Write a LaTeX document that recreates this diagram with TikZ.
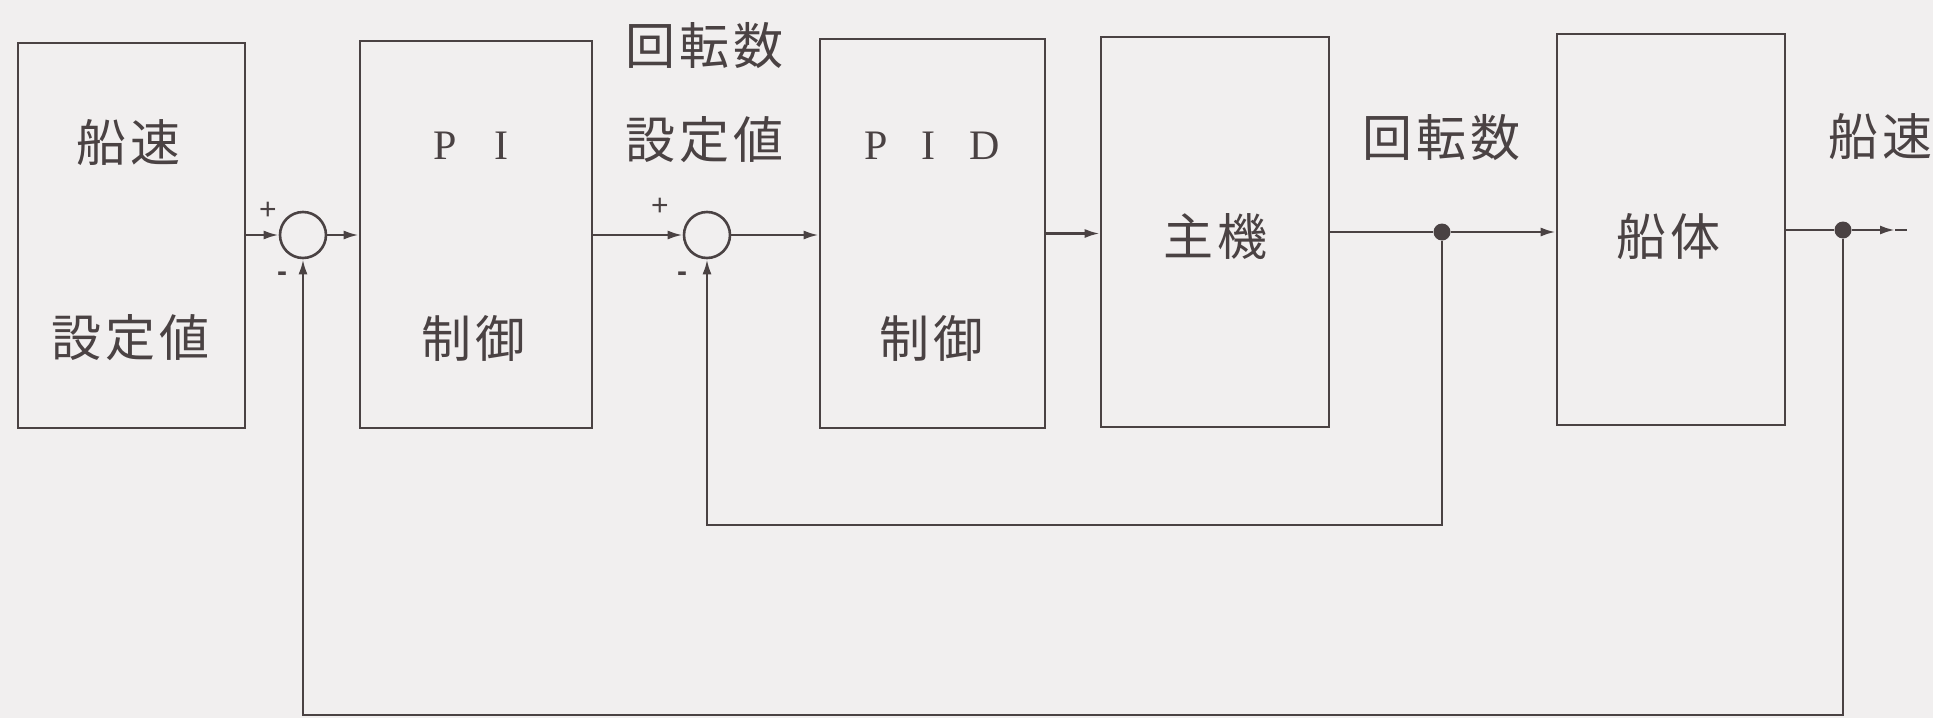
\documentclass[tikz,border=0pt]{standalone}
\usepackage{fontspec}
\newfontfamily\cjk{Noto Sans CJK JP}
\newfontfamily\lser{Liberation Serif}
\newfontfamily\lsan{Liberation Sans}
\usetikzlibrary{arrows.meta}
\definecolor{bg}{HTML}{F1EFEF}
\definecolor{ink}{HTML}{4A4243}
\tikzset{
  blk/.style={draw=ink, line width=2.6pt, inner sep=0pt},
  sumj/.style={circle, draw=ink, line width=2.6pt, minimum size=46pt, inner sep=0pt},
  dotn/.style={circle, fill=ink, minimum size=17pt, inner sep=0pt},
  conn/.style={draw=ink, line width=2.5pt},
  arr/.style={conn, -{Latex[length=15pt,width=9pt]}},
  lbl/.style={text=ink, font=\cjk\fontsize{50pt}{60pt}\selectfont, inner sep=0pt},
  lat/.style={text=ink, font=\lser\fontsize{42pt}{48pt}\selectfont, inner sep=0pt},
  sgn/.style={text=ink, font=\lsan\fontsize{30pt}{34pt}\selectfont, inner sep=0pt},
}
\newcommand\gp{\hspace{4pt}}
\begin{document}
\begin{tikzpicture}[x=1pt,y=-1pt]
\useasboundingbox (0,0) rectangle (1933,718);
\fill[bg] (0,0) rectangle (1933,718);
% blocks
\node[blk, minimum width=227pt, minimum height=385pt] (b1) at (131.5,235.5) {};
\node[blk, minimum width=232pt, minimum height=387pt] (b2) at (476,234.5) {};
\node[blk, minimum width=225pt, minimum height=389pt] (b3) at (932.5,233.5) {};
\node[blk, minimum width=228pt, minimum height=390pt] (b4) at (1215,232) {};
\node[blk, minimum width=228pt, minimum height=391pt] (b5) at (1671,229.5) {};
% junctions
\node[sumj] (s1) at (303,235) {};
\node[sumj] (s2) at (707,235) {};
\node[dotn] (d1) at (1442,232) {};
\node[dotn] (d2) at (1843,230) {};
\coordinate (oA) at (1895,230);
\coordinate (oB) at (1907,230);
\coordinate (fb1) at (1442,525);
\coordinate (fb2) at (1843,715);
% texts
\node[lbl] (t1) at (128,143) {船\gp 速};
\node[lbl] (t2) at (130,338) {設\gp 定\gp 値};
\node[lat] (t3) at (471,146) {P\hspace{38pt}I};
\node[lbl] (t4) at (473,338) {制\gp 御};
\node[lbl] (t5) at (704,46) {回\gp 転\gp 数};
\node[lbl] (t6) at (704,140) {設\gp 定\gp 値};
\node[lat] (t7) at (932,146) {P\hspace{34pt}I\hspace{34pt}D};
\node[lbl] (t8) at (931,338) {制\gp 御};
\node[lbl] (t9) at (1215,237) {主\gp 機};
\node[lbl] (t10) at (1441,138) {回\gp 転\gp 数};
\node[lbl] (t11) at (1668,237) {船\gp 体};
\node[lbl] (t12) at (1880,137) {船\gp 速};
\node[sgn] (p1) at (268,211) {+};
\node[sgn] (m1) at (282,277) {\bfseries -};
\node[sgn] (p2) at (660,207) {+};
\node[sgn] (m2) at (682,277) {\bfseries -};
% connectors
\draw[arr] (b1.east |- s1.west) -- (s1.west);
\draw[arr] (s1.east) -- (s1.east -| b2.west);
\draw[arr] (b2.east |- s2.west) -- (s2.west);
\draw[arr] (s2.east) -- (s2.east -| b3.west);
\draw[arr] (b3.east) -- (b3.east -| b4.west);
\draw[conn] (b4.east |- d1) -- (d1);
\draw[arr] (d1) -- (d1 -| b5.west);
\draw[conn] (b5.east |- d2) -- (d2);
\draw[arr] (d2) -- (oA);
\draw[conn] (oA) -- (oB);
\draw[arr] (d1) -- (fb1) -| (s2.south);
\draw[arr] (d2) -- (fb2) -| (s1.south);
\end{tikzpicture}
\end{document}
